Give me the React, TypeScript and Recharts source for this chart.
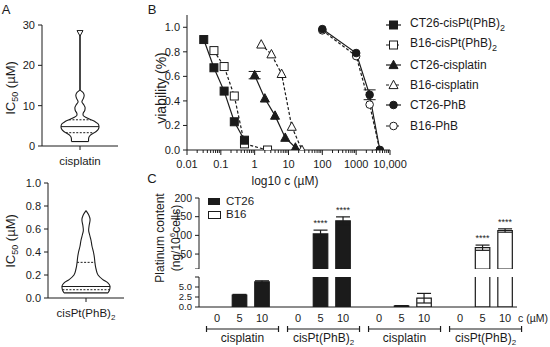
import React from 'react';
import {
  ComposedChart, Line, Bar, XAxis, YAxis, ErrorBar, Cell, ReferenceLine, ReferenceDot,
} from 'recharts';

const FONT = '"Liberation Sans", Arial, Helvetica, sans-serif';
const INK = '#1b1b1b';

// ---------------- Panel A : violin profiles ----------------
const cisplatinIC50Values = [28, 14, 13.2, 12.5, 11.8, 11, 10.2, 9.5, 8.8, 8, 7.6, 7, 6.5, 6, 5.5, 4.8, 4.2, 3.6, 3.2, 2.7, 2.2, 1.6, 1.1];
const cisplatinIC50Density = [0, 0, 0.17, 0.22, 0.18, 0.1, 0.2, 0.27, 0.25, 0.16, 0.16, 0.35, 0.58, 0.8, 0.95, 1, 0.97, 0.85, 0.72, 0.55, 0.47, 0.45, 0.45];
const cisplatinQuartiles = [6.5, 4.8, 3.3];
const cisplatinQuartileDensity = [0.58, 1, 0.75];
const cisplatinMax = 28;

const cisPtIC50Values = [0.76, 0.72, 0.68, 0.63, 0.59, 0.55, 0.5, 0.45, 0.4, 0.35, 0.31, 0.28, 0.25, 0.2, 0.16, 0.13, 0.1, 0.07, 0.045];
const cisPtIC50Density = [0, 0.12, 0.17, 0.13, 0.11, 0.15, 0.21, 0.25, 0.31, 0.35, 0.37, 0.39, 0.42, 0.5, 0.7, 0.92, 1, 0.98, 0.92];
const cisPtQuartiles = [0.31, 0.1, 0.072];
const cisPtQuartileDensity = [0.37, 1, 0.98];

const icTicksTop = [0, 10, 20, 30];
const icTicksBottom = [0, 0.2, 0.4, 0.6, 0.8, 1.0];

// ---------------- Panel B : viability curves ----------------
const ct26CisPtConc = [0.03125, 0.0625, 0.125, 0.25, 0.5];
const ct26CisPtViab = [0.9, 0.67, 0.48, 0.23, 0.08];
const b16CisPtConc = [0.0625, 0.125, 0.25, 0.5, 2.4];
const b16CisPtViab = [0.81, 0.68, 0.44, 0.05, 0.0];
const ct26CisplatinConc = [1, 2, 4, 8, 16];
const ct26CisplatinViab = [0.61, 0.42, 0.28, 0.1, 0.02];
const ct26CisplatinErr = [0.03, 0, 0, 0, 0];
const b16CisplatinConc = [1.5625, 3.125, 6.25, 12.5, 25];
const b16CisplatinViab = [0.86, 0.78, 0.62, 0.19, 0.0];
const ct26PhbConc = [100, 1000, 2500, 5000];
const ct26PhbViab = [0.985, 0.79, 0.45, 0.0];
const ct26PhbErr = [0, 0, 0.04, 0];
const b16PhbConc = [100, 1000, 2500, 5000];
const b16PhbViab = [0.975, 0.765, 0.37, 0.0];

const logMajorTicks = [0.01, 0.1, 1, 10, 100, 1000, 10000];
const logMinorMultipliers = [2, 3, 4, 5, 6, 7, 8, 9];
const viabTicks = [0, 0.2, 0.4, 0.6, 0.8, 1.0];

// ---------------- Panel C : platinum content ----------------
const concLabels = ['0', '5', '10'];
const ct26CisplatinPt = [0, 3.0, 6.3];
const ct26CisplatinPtErr = [0, 0.15, 0.25];
const ct26CisPtPt = [0, 104, 139];
const ct26CisPtPtErr = [0, 10, 10.5];
const b16CisplatinPt = [0, 0.25, 2.2];
const b16CisplatinPtErr = [0, 0.1, 1.2];
const b16CisPtPt = [0, 67, 113];
const b16CisPtPtErr = [0, 7, 4.5];
const ct26CisPtStars = ['', '****', '****'];
const b16CisPtStars = ['', '****', '****'];
const noStars = ['', '', ''];
const ptUpperTicks = [10, 50, 100, 150, 200];
const ptLowerTicks = [0, 2.5, 5, 7.5];

// ---------------- helpers ----------------
const Marker = ({ cx, cy, shape, filled }: any) => {
  const fill = filled ? INK : '#fff';
  if (cx == null || cy == null) return <g />;
  if (shape === 'square') return <rect x={cx - 4} y={cy - 4} width={8} height={8} fill={fill} stroke={INK} strokeWidth={1} />;
  if (shape === 'triangle') return <path d={`M${cx},${cy - 4.8}L${cx + 4.5},${cy + 3.6}L${cx - 4.5},${cy + 3.6}Z`} fill={fill} stroke={INK} strokeWidth={1} />;
  return <circle cx={cx} cy={cy} r={3.8} fill={fill} stroke={INK} strokeWidth={1} />;
};

const Txt = ({ x, y, size = 12, anchor = 'middle', rotate = false, children, lh }: any) => {
  const tx = anchor === 'middle' ? '-50%' : anchor === 'end' ? '-100%' : '0';
  return (
    <div style={{
      position: 'absolute', left: x, top: y, fontSize: size, color: INK, whiteSpace: 'nowrap',
      lineHeight: lh ? `${lh}px` : 1, textAlign: 'center',
      transform: rotate ? 'translate(-50%,-50%) rotate(-90deg)' : `translate(${tx},-50%)`,
    }}>{children}</div>
  );
};

const TriDown = (p: any) => (
  <path d={`M${p.cx - 3},${p.cy - 2.5}L${p.cx + 3},${p.cy - 2.5}L${p.cx},${p.cy + 3}Z`} fill="#fff" stroke={INK} strokeWidth={1} />
);

const ViolinTick = ({ x, y, label, sub }: any) => (
  <g>
    <line x1={x} x2={x} y1={y} y2={y + 4} stroke={INK} strokeWidth={1} />
    <text x={x} y={y + 19} textAnchor="middle" fontSize={11.5} fill={INK} fontFamily={FONT}>
      {label}{sub ? <tspan dy={3} fontSize={8}>{sub}</tspan> : null}
    </text>
  </g>
);

const Violin = ({ values, density, quartiles, qDensity, spread, yDomain, yTicks, yFmt, box, label, sub, maxValue }: any) => {
  const rows = values.map((v: number, i: number) => ({ v, l: -density[i], r: density[i] }));
  const vMin = values[values.length - 1];
  const dMin = density[density.length - 1];
  return (
    <div style={{ position: 'absolute', left: box.left, top: box.top }}>
      <ComposedChart width={box.width} height={box.height} data={rows} layout="vertical" margin={box.margin}>
        <XAxis type="number" domain={[-spread, spread]} ticks={[0]} interval={0} tickLine={false} tickSize={0} tickMargin={0}
          tick={<ViolinTick label={label} sub={sub} />} height={box.xHeight} stroke={INK} allowDataOverflow />
        <YAxis type="number" dataKey="v" domain={yDomain} ticks={yTicks} interval={0} tickFormatter={yFmt} width={box.yWidth}
          reversed stroke={INK} tick={{ fontSize: 11, fill: INK, fontFamily: FONT }} tickSize={4} tickMargin={3} allowDataOverflow />
        <Line dataKey="l" type="monotone" stroke={INK} strokeWidth={1.1} dot={false} isAnimationActive={false} />
        <Line dataKey="r" type="monotone" stroke={INK} strokeWidth={1.1} dot={false} isAnimationActive={false} />
        <ReferenceLine segment={[{ x: -dMin, y: vMin }, { x: dMin, y: vMin }]} stroke={INK} strokeWidth={1.1} />
        {quartiles.map((q: number, i: number) => (
          <ReferenceLine key={i} segment={[{ x: -qDensity[i], y: q }, { x: qDensity[i], y: q }]} stroke={INK}
            strokeWidth={1} strokeDasharray={i === 1 ? undefined : '2 1.5'} />
        ))}
        {maxValue !== undefined && <ReferenceDot x={0} y={maxValue} r={3} shape={TriDown} />}
      </ComposedChart>
    </div>
  );
};

// Panel B series
const mk = (c: number[], v: number[], e?: number[]) => c.map((x, i) => ({ c: x, v: v[i], e: e ? e[i] : 0 }));
const bSeries = [
  { name: 'B16-cisPt(PhB)', sub: '2', data: mk(b16CisPtConc, b16CisPtViab), shape: 'square', filled: false, dash: true },
  { name: 'B16-cisplatin', sub: '', data: mk(b16CisplatinConc, b16CisplatinViab), shape: 'triangle', filled: false, dash: true },
  { name: 'B16-PhB', sub: '', data: mk(b16PhbConc, b16PhbViab), shape: 'circle', filled: false, dash: true },
  { name: 'CT26-cisPt(PhB)', sub: '2', data: mk(ct26CisPtConc, ct26CisPtViab), shape: 'square', filled: true, dash: false },
  { name: 'CT26-cisplatin', sub: '', data: mk(ct26CisplatinConc, ct26CisplatinViab, ct26CisplatinErr), shape: 'triangle', filled: true, dash: false },
  { name: 'CT26-PhB', sub: '', data: mk(ct26PhbConc, ct26PhbViab, ct26PhbErr), shape: 'circle', filled: true, dash: false },
];
const legendOrder = [3, 0, 4, 1, 5, 2];

const logTicks = [
  ...logMajorTicks.slice(0, -1).flatMap((d) => [d, ...logMinorMultipliers.map((m) => +(m * d).toPrecision(3))]),
  logMajorTicks[logMajorTicks.length - 1],
];

const LogTick = ({ x, y, payload }: any) => {
  const v = payload.value;
  const major = logMajorTicks.includes(v);
  return (
    <g>
      <line x1={x} x2={x} y1={y} y2={y + (major ? 5 : 3)} stroke={INK} strokeWidth={1} />
      {major && (
        <text x={x} y={y + 18} textAnchor="middle" fontSize={11} fill={INK} fontFamily={FONT}>
          {v >= 10000 ? v.toLocaleString('en-US') : String(v)}
        </text>
      )}
    </g>
  );
};

// Panel C rows
const GROUP_STRIDE = 3.6;
const UPPER_MIN = 10;
const LOWER_MAX = 7.5;
const cGroups = [
  { name: 'cisplatin', sub: '', cell: 'CT26', mean: ct26CisplatinPt, err: ct26CisplatinPtErr, stars: noStars },
  { name: 'cisPt(PhB)', sub: '2', cell: 'CT26', mean: ct26CisPtPt, err: ct26CisPtPtErr, stars: ct26CisPtStars },
  { name: 'cisplatin', sub: '', cell: 'B16', mean: b16CisplatinPt, err: b16CisplatinPtErr, stars: noStars },
  { name: 'cisPt(PhB)', sub: '2', cell: 'B16', mean: b16CisPtPt, err: b16CisPtPtErr, stars: b16CisPtStars },
];
const cRows = cGroups.flatMap((g, gi) => concLabels.map((c, si) => ({
  pos: gi * GROUP_STRIDE + si, conc: c, gi, si, cell: g.cell, v: g.mean[si], e: g.err[si], stars: g.stars[si], name: g.name, sub: g.sub,
})));
const upperRows = cRows.map((r) => ({ ...r, v: r.v > UPPER_MIN ? r.v : null, e: r.v > UPPER_MIN ? r.e : null }));
const lowerRows = cRows.map((r) => ({ ...r, e: r.v <= LOWER_MAX ? r.e : null }));
const cDomain = [-0.8, 3 * GROUP_STRIDE + 2 + 0.53];

const CTick = ({ x, y, payload }: any) => {
  const row = cRows.find((r) => Math.abs(r.pos - payload.value) < 1e-6);
  if (!row) return <g />;
  return (
    <g>
      <text x={x} y={y + 15} textAnchor="middle" fontSize={11} fill={INK} fontFamily={FONT}>{row.conc}</text>
      {row.si === 1 && (
        <g>
          <line x1={x - 33} x2={x + 39} y1={y + 22} y2={y + 22} stroke={INK} strokeWidth={1.2} />
          <line x1={x - 33} x2={x - 33} y1={y + 19} y2={y + 25} stroke={INK} strokeWidth={1.2} />
          <line x1={x + 39} x2={x + 39} y1={y + 19} y2={y + 25} stroke={INK} strokeWidth={1.2} />
          <text x={x + 3} y={y + 35} textAnchor="middle" fontSize={12} fill={INK} fontFamily={FONT}>
            {row.name}{row.sub ? <tspan dy={2.5} fontSize={8}>{row.sub}</tspan> : null}
          </text>
        </g>
      )}
    </g>
  );
};

const cellFill = (cell: string) => (cell === 'CT26' ? INK : '#fff');

export default function App() {
  return (
    <div style={{ position: 'absolute', left: 0, top: 0, width: 550, height: 347, background: '#fff', fontFamily: FONT, overflow: 'hidden' }}>
      {/* Panel letters */}
      <Txt x={6} y={9} size={13}>A</Txt>
      <Txt x={152} y={9} size={13}>B</Txt>
      <Txt x={152} y={178} size={13}>C</Txt>

      {/* Panel A */}
      <Violin values={cisplatinIC50Values} density={cisplatinIC50Density} quartiles={cisplatinQuartiles}
        qDensity={cisplatinQuartileDensity} spread={2} yDomain={[0, 30]} yTicks={icTicksTop} yFmt={(v: number) => String(v)}
        box={{ left: 0, top: 0, width: 125, height: 175, margin: { top: 25, right: 7, bottom: 0, left: 0 }, yWidth: 42, xHeight: 29 }}
        label="cisplatin" maxValue={cisplatinMax} />
      <Violin values={cisPtIC50Values} density={cisPtIC50Density} quartiles={cisPtQuartiles}
        qDensity={cisPtQuartileDensity} spread={1.58} yDomain={[0, 1]} yTicks={icTicksBottom} yFmt={(v: number) => v.toFixed(1)}
        box={{ left: 0, top: 170, width: 130, height: 177, margin: { top: 13, right: 6, bottom: 0, left: 0 }, yWidth: 48, xHeight: 49 }}
        label="cisPt(PhB)" sub="2" />
      <Txt x={12} y={88} size={13} rotate>IC<sub style={{ fontSize: 9 }}>50</sub> (µM)</Txt>
      <Txt x={12} y={241} size={13} rotate>IC<sub style={{ fontSize: 9 }}>50</sub> (µM)</Txt>

      {/* Panel B */}
      <div style={{ position: 'absolute', left: 130, top: 0 }}>
        <ComposedChart width={290} height={195} margin={{ top: 15, right: 30, bottom: 0, left: 0 }}>
          <XAxis type="number" dataKey="c" scale="log" domain={[0.01, 10000]} ticks={logTicks} interval={0}
            tick={<LogTick />} tickLine={false} tickSize={0} tickMargin={0} height={45} stroke={INK} allowDataOverflow />
          <YAxis type="number" domain={[0, 1.1]} ticks={viabTicks} interval={0} tickFormatter={(v: number) => v.toFixed(1)}
            width={57} stroke={INK} tick={{ fontSize: 11, fill: INK, fontFamily: FONT }} tickSize={4} tickMargin={3} allowDataOverflow />
          {bSeries.map((s, si) => (
            <Line key={s.name} data={s.data} dataKey="v" type="linear" stroke={INK} strokeWidth={1.2}
              strokeDasharray={s.dash ? '3 2' : undefined} isAnimationActive={false}
              dot={(p: any) => <Marker key={`m${si}-${p.index}`} cx={p.cx} cy={p.cy} shape={s.shape} filled={s.filled} />}>
              <ErrorBar dataKey="e" direction="y" width={6} stroke={INK} strokeWidth={1} />
            </Line>
          ))}
        </ComposedChart>
      </div>
      <Txt x={161} y={88} size={14} rotate>viability (%)</Txt>
      <Txt x={285} y={181} size={12}>log10 c (µM)</Txt>
      {legendOrder.map((idx, i) => {
        const s = bSeries[idx];
        const cy = 25 + i * 20.1;
        return (
          <React.Fragment key={s.name + i}>
            <svg style={{ position: 'absolute', left: 384, top: cy - 7 }} width={20} height={14}>
              <line x1={2} x2={17} y1={7} y2={7} stroke={INK} strokeWidth={1.2} strokeDasharray={s.dash ? '3 2' : undefined} />
              <Marker cx={9.5} cy={7} shape={s.shape} filled={s.filled} />
            </svg>
            <Txt x={410} y={cy} size={12} anchor="start">{s.name}{s.sub ? <sub style={{ fontSize: 9 }}>{s.sub}</sub> : null}</Txt>
          </React.Fragment>
        );
      })}

      {/* Panel C - upper segment */}
      <div style={{ position: 'absolute', left: 130, top: 170 }}>
        <ComposedChart width={395} height={99} data={upperRows} margin={{ top: 28, right: 8, bottom: 0, left: 0 }}>
          <XAxis type="number" dataKey="pos" domain={cDomain} hide allowDataOverflow />
          <YAxis type="number" domain={[UPPER_MIN, 200]} ticks={ptUpperTicks} interval={0}
            tickFormatter={(v: number) => (v === UPPER_MIN ? '' : String(v))} width={69} stroke={INK}
            tick={{ fontSize: 10.5, fill: INK, fontFamily: FONT }} tickSize={4} tickMargin={3} allowDataOverflow />
          <Bar dataKey="v" barSize={14.5} isAnimationActive={false}>
            {upperRows.map((r, i) => <Cell key={i} fill={cellFill(r.cell)} stroke={INK} strokeWidth={1.2} />)}
            <ErrorBar dataKey="e" direction="y" width={7} stroke={INK} strokeWidth={1.2} />
          </Bar>
          {upperRows.filter((r) => r.stars && r.v != null).map((r) => (
            <ReferenceDot key={`s${r.pos}`} x={r.pos} y={(r.v as number) + (r.e as number)} r={0} fill="none" stroke="none"
              label={{ value: r.stars, position: 'top', offset: 4, fontSize: 9, fill: INK }} />
          ))}
        </ComposedChart>
      </div>
      {/* Panel C - lower segment */}
      <div style={{ position: 'absolute', left: 130, top: 170 }}>
        <ComposedChart width={395} height={177} data={lowerRows} margin={{ top: 107, right: 8, bottom: 0, left: 0 }}>
          <XAxis type="number" dataKey="pos" domain={cDomain} ticks={cRows.map((r) => r.pos)} interval={0}
            tick={<CTick />} tickLine={false} tickSize={0} tickMargin={0} height={40} stroke={INK} allowDataOverflow />
          <YAxis type="number" domain={[0, LOWER_MAX]} ticks={ptLowerTicks} interval={0}
            tickFormatter={(v: number) => (v === LOWER_MAX ? '' : v.toFixed(1))} width={69} stroke={INK}
            tick={{ fontSize: 9.5, fill: INK, fontFamily: FONT }} tickSize={4} tickMargin={3} allowDataOverflow />
          <Bar dataKey="v" barSize={14.5} isAnimationActive={false}>
            {lowerRows.map((r, i) => <Cell key={i} fill={cellFill(r.cell)} stroke={INK} strokeWidth={1.2} />)}
            <ErrorBar dataKey="e" direction="y" width={7} stroke={INK} strokeWidth={1.2} />
          </Bar>
        </ComposedChart>
      </div>
      <Txt x={168} y={238} size={12} rotate lh={12.5}>
        <div>Platinum content</div>
        <div>(ng/10<sup style={{ fontSize: 8 }}>6</sup>cells)</div>
      </Txt>
      <Txt x={518} y={318} size={10.5} anchor="start">c (µM)</Txt>
      {/* Panel C legend */}
      <div style={{ position: 'absolute', left: 208, top: 198, width: 12, height: 7, background: INK }} />
      <div style={{ position: 'absolute', left: 208, top: 211, width: 11, height: 6, border: `1.2px solid ${INK}`, background: '#fff' }} />
      <Txt x={226} y={202} size={11.5} anchor="start">CT26</Txt>
      <Txt x={226} y={215} size={11.5} anchor="start">B16</Txt>
    </div>
  );
}
